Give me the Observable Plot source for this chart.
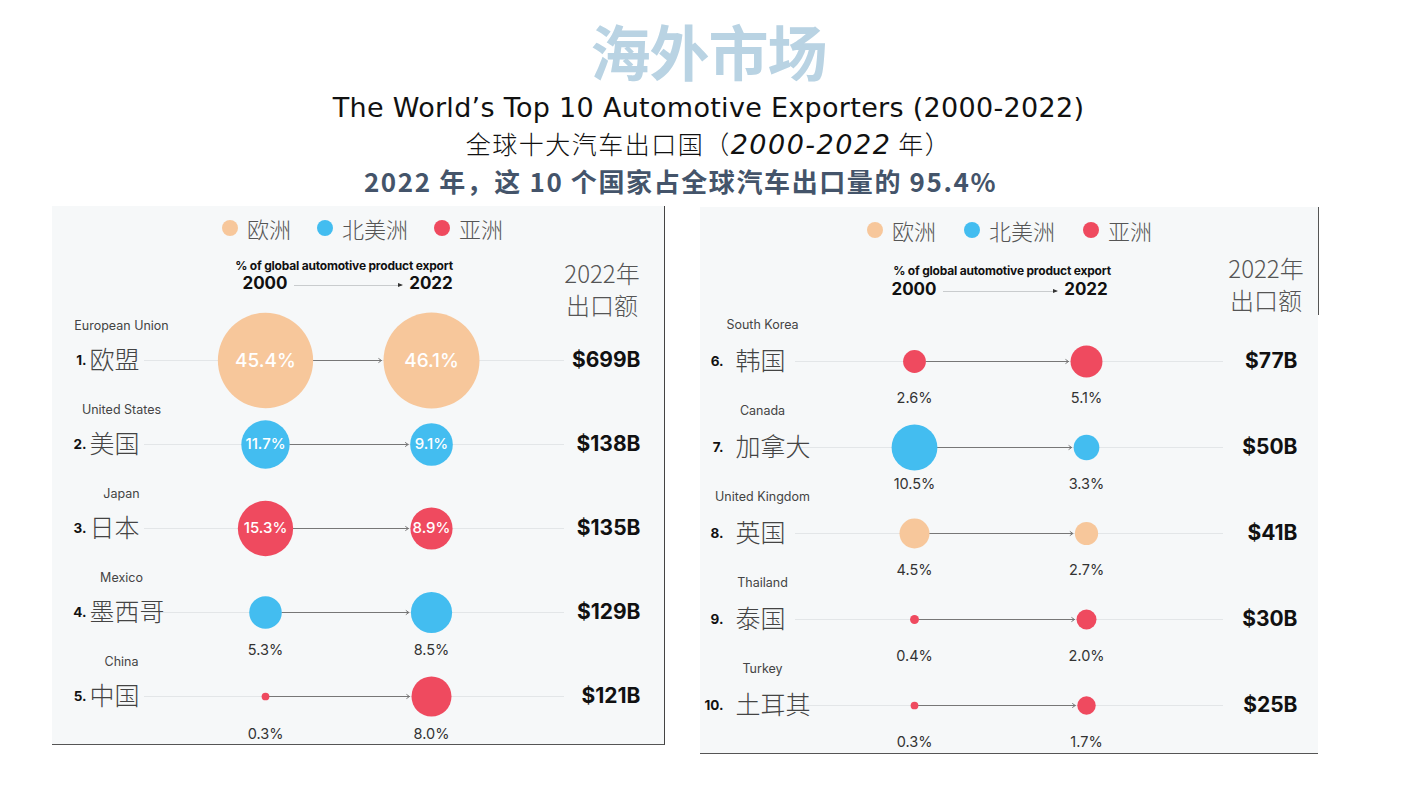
<!DOCTYPE html>
<html>
<head>
<meta charset="utf-8">
<script src="https://cdn.jsdelivr.net/npm/d3@7"></script>
<script src="https://cdn.jsdelivr.net/npm/@observablehq/plot@0.6"></script>
<style>
  html, body { margin:0; padding:0; background:#fff; }
  body { width:1417px; height:797px; position:relative; overflow:hidden; font-family: Inter, "Noto Sans CJK SC", sans-serif; }
  .abs { position:absolute; }
  .center { left:0; width:1417px; text-align:center; white-space:nowrap; }
  #bigtitle { top:14px; line-height:72px; font-size:60px; font-weight:700; color:#b9d3e3; font-family:"Noto Sans CJK SC", sans-serif; letter-spacing:-1px; }
  #entitle { top:92px; line-height:32px; font-size:27px; color:#111; font-family:"DejaVu Sans", sans-serif; letter-spacing:0.3px; }
  #cntitle { top:127px; line-height:32px; font-size:25px; color:#111; font-family:"Noto Sans CJK SC", sans-serif; font-weight:300; letter-spacing:1.5px; }
  #cntitle .n { font-family:"DejaVu Sans", sans-serif; font-style:italic; font-weight:400; font-size:27px; }
  #subtitle { top:164px; left:-28px; line-height:34px; font-size:26px; font-weight:700; color:#44546a; font-family:"Noto Sans CJK SC", sans-serif; letter-spacing:1.6px; }
  .panel { position:absolute; background:#f6f8f9; }
  .legend { position:absolute; display:flex; align-items:center; font-family:"Noto Sans CJK SC", sans-serif; font-size:22px; color:#555; font-weight:300; }
  .legend .item { display:flex; align-items:center; }
  .legend .sw { width:16px; height:16px; border-radius:50%; margin-right:9px; }
  .hdr { position:absolute; font-family:Inter, sans-serif; font-weight:700; font-size:12px; color:#111; white-space:nowrap; transform:translateX(-50%); letter-spacing:-0.2px; }
  .yr { position:absolute; font-family:Inter, sans-serif; font-weight:700; font-size:17px; color:#111; transform:translateX(-50%); }
  .harrow { position:absolute; height:1px; background:#c9ccce; }
  .harrow::after { content:""; position:absolute; right:-1px; top:-2px; border-left:5px solid #333; border-top:2.5px solid transparent; border-bottom:2.5px solid transparent; }
  .amt { position:absolute; font-family:"Noto Sans CJK SC", sans-serif; font-weight:300; font-size:24px; color:#555; line-height:26px; text-align:center; transform:translateX(-50%); white-space:nowrap; }
  .plot { position:absolute; left:0; top:0; }
</style>
</head>
<body>
<div id="bigtitle" class="abs center">海外市场</div>
<div id="entitle" class="abs center">The World’s Top 10 Automotive Exporters (2000-2022)</div>
<div id="cntitle" class="abs center">全球十大汽车出口国（<span class="n">2000-2022</span> 年）</div>
<div id="subtitle" class="abs center">2022 年，这 10 个国家占全球汽车出口量的 95.4%</div>

<div id="left" class="panel" style="left:52px; top:206px; width:612px; height:538px; border-right:1px solid #444; border-bottom:1.5px solid #555;"></div>
<div id="right" class="panel" style="left:700px; top:207px; width:618px; height:546px; border-bottom:1.5px solid #555;"></div>
<div class="abs" style="left:1318px; top:207px; width:1px; height:108px; background:#555;"></div>

<script>
// ---- data ----
const rank = [1, 2, 3, 4, 5, 6, 7, 8, 9, 10];
const nameCN = ["欧盟", "美国", "日本", "墨西哥", "中国", "韩国", "加拿大", "英国", "泰国", "土耳其"];
const nameEN = ["European Union", "United States", "Japan", "Mexico", "China", "South Korea", "Canada", "United Kingdom", "Thailand", "Turkey"];
const region = ["欧洲", "北美洲", "亚洲", "北美洲", "亚洲", "亚洲", "北美洲", "欧洲", "亚洲", "亚洲"];
const share2000 = [45.4, 11.7, 15.3, 5.3, 0.3, 2.6, 10.5, 4.5, 0.4, 0.3];
const share2022 = [46.1, 9.1, 8.9, 8.5, 8.0, 5.1, 3.3, 2.7, 2.0, 1.7];
const exportValueB = [699, 138, 135, 129, 121, 77, 50, 41, 30, 25];
const regions = ["欧洲", "北美洲", "亚洲"];
const years = ["2000", "2022"];
const headerText = "% of global automotive product export";
const amountHeader = ["2022年", "出口额"];

// ---- styles ----
const regionColors = ["#f7c79b", "#43bdf0", "#ef4a5f"];
const rMax = 48, rDomainMax = 46.1;
const rS = d3.scaleSqrt().domain([0, rDomainMax]).range([0, rMax]);

const rows = rank.map((k, i) => ({
  rank: k, cn: nameCN[i], en: nameEN[i], region: region[i],
  v2000: share2000[i], v2022: share2022[i], amount: exportValueB[i]
}));

function buildPanel(el, data, cfg) {
  const lg = document.createElement("div");
  lg.className = "legend";
  lg.style.left = cfg.legendLeft + "px";
  lg.style.top = cfg.legendTop + "px";
  lg.style.gap = cfg.legendGap + "px";
  regions.forEach((r, i) => {
    const it = document.createElement("div");
    it.className = "item";
    it.innerHTML = `<span class="sw" style="background:${regionColors[i]}"></span><span>${r}</span>`;
    lg.appendChild(it);
  });
  el.appendChild(lg);

  const hdr = document.createElement("div");
  hdr.className = "hdr";
  hdr.textContent = headerText;
  hdr.style.left = cfg.hdrX + "px";
  hdr.style.top = cfg.hdrTop + "px";
  el.appendChild(hdr);

  years.forEach((y, i) => {
    const d = document.createElement("div");
    d.className = "yr";
    d.textContent = y;
    d.style.left = cfg.xr[i] + "px";
    d.style.top = cfg.yrTop + "px";
    el.appendChild(d);
  });
  const ha = document.createElement("div");
  ha.className = "harrow";
  ha.style.left = (cfg.xr[0] + 29) + "px";
  ha.style.width = (cfg.xr[1] - cfg.xr[0] - 58) + "px";
  ha.style.top = (cfg.yrTop + 12) + "px";
  el.appendChild(ha);

  amountHeader.forEach((t, i) => {
    const amt = document.createElement("div");
    amt.className = "amt";
    amt.textContent = t;
    amt.style.left = cfg.amtX + "px";
    amt.style.top = (cfg.amtTop + i * 32) + "px";
    el.appendChild(amt);
  });

  const pts = data.flatMap(d => [
    {cn: d.cn, region: d.region, year: "2000", v: d.v2000, inside: d.v2000 > 11},
    {cn: d.cn, region: d.region, year: "2022", v: d.v2022, inside: d.v2000 > 11}
  ]);

  const plot = Plot.plot({
    width: cfg.w, height: cfg.h, margin: 0,
    style: {background: "transparent", overflow: "visible", fontFamily: "Inter, 'Noto Sans CJK SC', sans-serif"},
    x: {type: "point", domain: years, range: cfg.xr, padding: 0, axis: null},
    y: {type: "point", domain: data.map(d => d.cn), range: cfg.yr, padding: 0, axis: null},
    r: {type: "sqrt", domain: [0, rDomainMax], range: [0, rMax]},
    color: {domain: regions, range: regionColors},
    marks: [
      Plot.ruleY(data, {y: "cn", insetLeft: cfg.lineLeft, insetRight: cfg.lineRight, stroke: "#e3e6e8", strokeWidth: 1}),
      ...data.map(d => Plot.arrow([d], {
        x1: () => "2000", x2: () => "2022", y1: "cn", y2: "cn",
        insetStart: rS(d.v2000), insetEnd: rS(d.v2022) + 2,
        stroke: "#777", strokeWidth: 1, headLength: 5, headAngle: 70
      })),
      Plot.dot(pts, {x: "year", y: "cn", r: "v", fill: "region", stroke: "none"}),
      Plot.text(pts.filter(p => p.inside), {
        x: "year", y: "cn", text: p => p.v.toFixed(1) + "%", fill: "white",
        fontSize: p => p.v > 40 ? 19 : 15, fontWeight: 500
      }),
      Plot.text(pts.filter(p => !p.inside), {
        x: "year", y: "cn", dy: cfg.belowDy, text: p => p.v.toFixed(1) + "%", fill: "#333", fontSize: 14.5
      }),
      Plot.text(data, {y: "cn", frameAnchor: "left", dx: cfg.enX, dy: cfg.enDy, text: "en", textAnchor: "middle", fill: "#444", fontSize: 12.5}),
      Plot.text(data, {y: "cn", frameAnchor: "left", dx: cfg.rankX, text: d => d.rank + ".", textAnchor: "end", fill: "#111", fontSize: 13.5, fontWeight: 700}),
      Plot.text(data, {y: "cn", frameAnchor: "left", dx: cfg.nameX, text: "cn", textAnchor: "start", fill: "#444", fontSize: 25, fontWeight: 300, fontFamily: "'Noto Sans CJK SC', sans-serif"}),
      Plot.text(data, {y: "cn", frameAnchor: "right", dx: cfg.valDx, text: d => "$" + d.amount + "B", textAnchor: "end", fill: "#111", fontSize: 21, fontWeight: 700})
    ]
  });
  plot.classList.add("plot");
  el.appendChild(plot);
}

buildPanel(document.getElementById("left"), rows.slice(0, 5), {
  w: 612, h: 538, xr: [213, 379], yr: [154, 490],
  legendLeft: 170, legendTop: 6, legendGap: 26,
  hdrX: 292, hdrTop: 52, yrTop: 67, amtX: 550, amtTop: 54,
  lineLeft: 92, lineRight: 100, belowDy: 38,
  enX: 69, enDy: -35, rankX: 34, nameX: 37, valDx: -24
});
buildPanel(document.getElementById("right"), rows.slice(5), {
  w: 618, h: 546, xr: [214, 386], yr: [152, 499],
  legendLeft: 167, legendTop: 7, legendGap: 28,
  hdrX: 302, hdrTop: 56, yrTop: 72, amtX: 566, amtTop: 48,
  lineLeft: 95, lineRight: 95, belowDy: 37,
  enX: 62, enDy: -37, rankX: 23, nameX: 35, valDx: -21
});
</script>
</body>
</html>
